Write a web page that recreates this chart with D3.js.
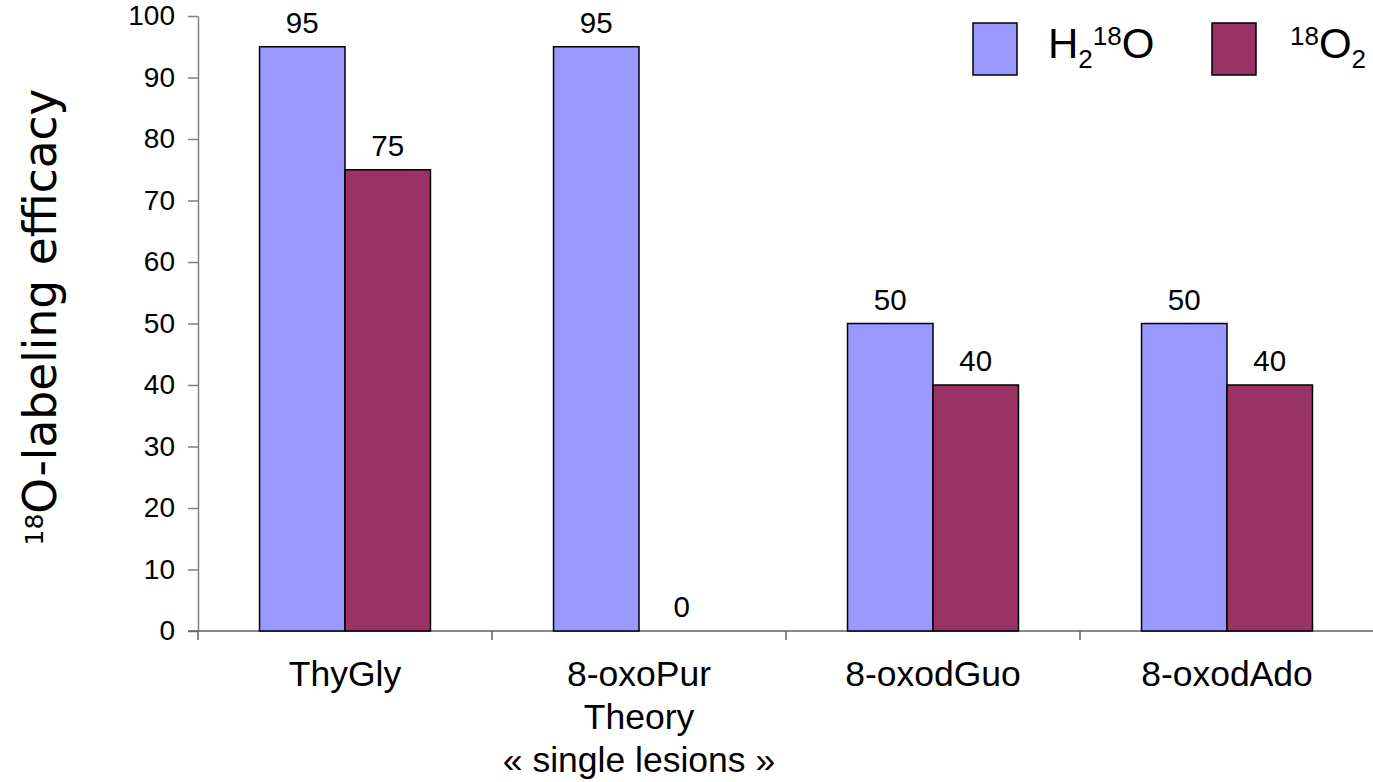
<!DOCTYPE html>
<html>
<head>
<meta charset="utf-8">
<script src="https://cdn.jsdelivr.net/npm/d3@7"></script>
<style>
  html, body { margin: 0; padding: 0; background: #fff; }
  svg { display: block; }
  text { font-family: "Liberation Sans", Arial, sans-serif; fill: #000; }
</style>
</head>
<body>
<svg id="chart" width="1373" height="782"></svg>
<script>
// Lesions measured and the two labelling sources
const categories = ["ThyGly", "8-oxoPur", "8-oxodGuo", "8-oxodAdo"];
const categoryLines = [["ThyGly"], ["8-oxoPur", "Theory", "« single lesions »"], ["8-oxodGuo"], ["8-oxodAdo"]];
const seriesKeys = ["H2 18O", "18O2"];
const waterValues = [95, 95, 50, 50];
const oxygenValues = [75, 0, 40, 40];
const yTicks = [0, 10, 20, 30, 40, 50, 60, 70, 80, 90, 100];
const seriesColors = ["#9999FF", "#993366"];

const rows = categories.map((c, i) => ({
  category: c,
  lines: categoryLines[i],
  values: [waterValues[i], oxygenValues[i]]
}));

const svg = d3.select("#chart");
const plotLeft = 198, plotRight = 1374, plotTop = 16, plotBottom = 631;

const x = d3.scaleBand().domain(categories).range([plotLeft, plotRight]).padding(0);
const x1 = d3.scaleBand().domain(seriesKeys).range([0, x.bandwidth()]).paddingInner(0).paddingOuter(0.72);
const y = d3.scaleLinear().domain([0, 100]).range([plotBottom, plotTop]);
const color = d3.scaleOrdinal().domain(seriesKeys).range(seriesColors);

// y axis
const yAxis = svg.append("g")
  .attr("transform", `translate(${plotLeft},0)`)
  .call(d3.axisLeft(y).tickValues(yTicks).tickSize(10).tickPadding(13).tickSizeOuter(0));
yAxis.select(".domain").attr("stroke", "#808080").attr("stroke-width", 1.5);
yAxis.selectAll(".tick line").attr("stroke", "#808080").attr("stroke-width", 1.5);
yAxis.selectAll(".tick text").style("font-size", "28px").style("font-family", "Liberation Sans, Arial, sans-serif").attr("fill", "#000");

// x axis line with ticks at category boundaries
const xAxis = svg.append("g");
xAxis.append("line")
  .attr("x1", plotLeft - 10).attr("x2", plotRight)
  .attr("y1", plotBottom).attr("y2", plotBottom)
  .attr("stroke", "#606060").attr("stroke-width", 1.5);
xAxis.selectAll("line.bound")
  .data(categories)
  .join("line")
  .attr("class", "bound")
  .attr("x1", d => x(d)).attr("x2", d => x(d))
  .attr("y1", plotBottom).attr("y2", plotBottom + 9)
  .attr("stroke", "#606060").attr("stroke-width", 1.5);

// category labels
const catLabels = svg.append("g").selectAll("text")
  .data(rows)
  .join("text")
  .attr("x", d => x(d.category) + x.bandwidth() / 2)
  .attr("y", 686)
  .attr("text-anchor", "middle")
  .style("font-size", "35.5px");
catLabels.selectAll("tspan")
  .data(d => d.lines.map(t => ({ t, cx: x(d.category) + x.bandwidth() / 2 })))
  .join("tspan")
  .attr("x", d => d.cx)
  .attr("dy", (d, i) => i === 0 ? 0 : 43)
  .text(d => d.t);

// bars
const groups = svg.append("g").selectAll("g")
  .data(rows)
  .join("g")
  .attr("transform", d => `translate(${x(d.category)},0)`);

const barData = d => seriesKeys.map((k, i) => ({ key: k, value: d.values[i] }));

groups.selectAll("rect")
  .data(barData)
  .join("rect")
  .attr("x", d => x1(d.key))
  .attr("y", d => y(d.value))
  .attr("width", x1.bandwidth())
  .attr("height", d => y(0) - y(d.value))
  .attr("fill", d => color(d.key))
  .attr("stroke", d => d.value > 0 ? "#000" : "none")
  .attr("stroke-width", 1.5);

groups.selectAll("text.val")
  .data(barData)
  .join("text")
  .attr("class", "val")
  .attr("x", d => x1(d.key) + x1.bandwidth() / 2)
  .attr("y", d => y(d.value) - 14)
  .attr("text-anchor", "middle")
  .style("font-size", "29.5px")
  .text(d => d.value);

// y axis title
const yTitle = svg.append("text")
  .attr("transform", "translate(56,317) rotate(-90)")
  .attr("text-anchor", "middle")
  .style("font-family", "'Comic Sans MS', 'DejaVu Sans', sans-serif")
  .style("font-size", "45.5px");
yTitle.append("tspan").style("font-size", "25px").attr("dy", -13).text("18");
yTitle.append("tspan").attr("dy", 13).text("O-labeling efficacy");

// legend
const legend = svg.append("g");
const legendItems = [
  { key: seriesKeys[0], sx: 973 },
  { key: seriesKeys[1], sx: 1212 }
];
legend.selectAll("rect")
  .data(legendItems)
  .join("rect")
  .attr("x", d => d.sx).attr("y", 23)
  .attr("width", 44).attr("height", 52)
  .attr("fill", d => color(d.key))
  .attr("stroke", "#000").attr("stroke-width", 1.5);

const l1 = legend.append("text").attr("x", 1048).attr("y", 58).style("font-size", "42px");
l1.append("tspan").text("H");
l1.append("tspan").style("font-size", "26px").attr("dy", 10).text("2");
l1.append("tspan").style("font-size", "26px").attr("dy", -23).text("18");
l1.append("tspan").attr("dy", 13).text("O");

const l2 = legend.append("text").attr("x", 1290).attr("y", 58).style("font-size", "42px");
l2.append("tspan").style("font-size", "26px").attr("dy", -13).text("18");
l2.append("tspan").attr("dy", 13).text("O");
l2.append("tspan").style("font-size", "26px").attr("dy", 10).text("2");
</script>
</body>
</html>
